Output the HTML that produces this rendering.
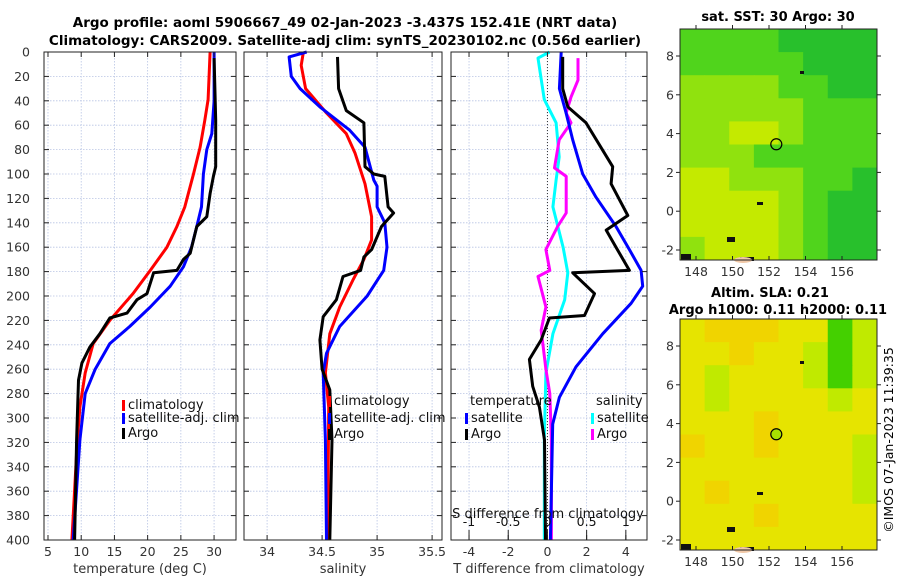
<!DOCTYPE html>
<html><head><meta charset="utf-8">
<style>
body{margin:0;background:#fff;}
svg{display:block;font-family:"DejaVu Sans","Liberation Sans",sans-serif;}
</style></head>
<body>
<svg id="fig" width="900" height="580" viewBox="0 0 900 580" xmlns="http://www.w3.org/2000/svg">
<text x="345" y="27" text-anchor="middle" font-weight="bold" font-size="13.5">Argo profile: aoml 5906667_49 02-Jan-2023 -3.437S 152.41E (NRT data)</text>
<text x="345" y="45" text-anchor="middle" font-weight="bold" font-size="13.5">Climatology: CARS2009. Satellite-adj clim: synTS_20230102.nc (0.56d earlier)</text>
<text x="778" y="21" text-anchor="middle" font-weight="bold" font-size="13">sat. SST: 30 Argo: 30</text>
<text x="770" y="297" text-anchor="middle" font-weight="bold" font-size="13">Altim. SLA: 0.21</text>
<text x="778" y="314" text-anchor="middle" font-weight="bold" font-size="13">Argo h1000: 0.11 h2000: 0.11</text>
<text transform="translate(893,440) rotate(-90)" text-anchor="middle" font-size="12.5">©IMOS 07-Jan-2023 11:39:35</text>
</svg>
<script>
// ---------- data ----------
const depthTicks=[0,20,40,60,80,100,120,140,160,180,200,220,240,260,280,300,320,340,360,380,400];
const tTicks=[5,10,15,20,25,30];
const sTicks=[34,34.5,35,35.5];
const dTTicks=[-4,-2,0,2,4];
const dSTickLabels=[-1,-0.5,0,0.5,1];
// temperature profiles: [depth, value]
const tClimDepth=[0,39,56,78,100,127,143,160,179,198,220,239,263,291,320,400];
const tClimVal=[29.4,29.1,28.6,27.9,26.9,25.6,24.4,22.9,20.4,17.8,14.3,11.8,10.6,9.8,9.4,8.6];
const tSatDepth=[0,40,67,80,100,127,143,160,176,192,209,225,239,260,280,318,400];
const tSatVal=[30.0,30.0,29.65,28.9,28.4,28.1,27.4,26.6,25.4,23.4,20.4,17.3,14.3,12.1,10.6,9.8,8.8];
const tArgoDepth=[5,56,94,102,116,135,143,154,165,170,179,181,198,203,214,218,231,242,255,269,318,400];
const tArgoVal=[30.0,30.25,30.25,29.9,29.4,28.9,27.4,26.9,26.4,25.4,24.4,20.9,19.9,18.4,16.9,14.3,12.8,11.3,10.1,9.6,9.3,9.0];
// salinity profiles
const sClimDepth=[0,11,30,50,67,83,108,135,154,170,187,209,231,263,291,400];
const sClimVal=[34.33,34.31,34.35,34.54,34.72,34.80,34.89,34.95,34.95,34.88,34.78,34.66,34.57,34.53,34.56,34.55];
const sSatDepth=[0,4,20,30,45,64,78,105,110,127,140,160,179,200,225,247,263,318,400];
const sSatVal=[34.36,34.20,34.22,34.30,34.48,34.75,34.89,34.97,35.00,35.00,35.07,35.09,35.06,34.91,34.66,34.54,34.51,34.53,34.54];
const sArgoDepth=[4,30,48,58,94,100,102,127,132,143,162,168,179,184,203,217,236,260,277,318,400];
const sArgoVal=[34.64,34.65,34.72,34.88,34.89,34.97,35.07,35.10,35.15,35.04,34.95,34.88,34.85,34.69,34.63,34.51,34.48,34.50,34.57,34.59,34.57];
// differences from climatology
const dTSatDepth=[0,30,50,72,100,119,143,162,179,192,206,231,258,283,305,400];
const dTSatVal=[0.70,0.61,0.95,1.29,1.80,2.48,3.50,4.18,4.78,4.86,4.27,2.82,1.46,0.61,0.27,0.15];
const dTArgoDepth=[4,30,45,58,94,108,134,146,160,179,181,198,216,218,236,252,274,291,318,400];
const dTArgoVal=[0.78,0.78,1.04,1.97,3.33,3.25,4.10,3.00,3.50,4.18,1.29,2.40,1.89,0.10,-0.32,-0.92,-0.75,-0.41,-0.15,-0.10];
const dSSatDepth=[0,5,39,58,86,105,127,160,181,203,231,263,318,400];
const dSSatVal=[0.026,-0.12,-0.04,0.11,0.15,0.11,0.07,0.20,0.26,0.22,0.07,-0.02,-0.04,-0.04];
const dSArgoDepth=[5,23,37,50,58,72,95,102,132,143,162,179,184,209,228,260,280,318,400];
const dSArgoVal=[0.39,0.39,0.30,0.24,0.30,0.15,0.09,0.24,0.24,0.13,-0.02,0.03,-0.12,-0.02,-0.08,-0.02,0.03,0.05,0.05];
// maps (rows north->south, cols west->east), category codes
const sstGrid=[
[1,1,1,1,0,0,0,0],[1,1,1,1,1,0,0,0],[2,2,2,2,1,1,0,0],[2,2,2,2,2,1,1,1],[2,2,3,3,2,1,1,1],
[2,2,2,1,1,1,1,1],[3,3,2,2,2,1,1,0],[3,3,3,3,2,1,0,0],[3,3,3,3,2,1,0,0],[2,3,3,3,2,1,0,0]];
const slaGrid=[
[2,3,3,3,2,2,0,1],[2,2,3,2,2,1,0,1],[2,1,2,2,2,1,0,1],[2,1,2,2,2,2,1,2],[2,2,2,3,2,2,2,2],
[3,2,2,3,2,2,2,1],[2,2,2,2,2,2,2,1],[2,3,2,2,2,2,2,1],[2,2,2,3,2,2,2,2],[2,2,2,2,2,2,2,2]];
const lonTicks=[148,150,152,154,156];
const latTicks=[8,6,4,2,0,-2];
const argoLon=152.4, argoLat=3.45;

// ---------- helpers ----------
const NS="http://www.w3.org/2000/svg";
const svg=document.getElementById('fig');
function mk(tag,attrs,parent){const e=document.createElementNS(NS,tag);for(const k in attrs)e.setAttribute(k,attrs[k]);(parent||svg).appendChild(e);return e;}
const Y0=52,Y1=540;
const yD=d=>Y0+(d/400)*(Y1-Y0);

function panel(name,x0,x1,xmin,xmax,ticks,fmt){
  const g=mk('g',{});
  
  
  const xs=v=>x0+(v-xmin)/(xmax-xmin)*(x1-x0);
  // grid
  ticks.forEach(t=>{const l=mk('line',{x1:xs(t),x2:xs(t),y1:Y0,y2:Y1,stroke:'#b8c4e4','stroke-width':0.8,'stroke-dasharray':'1.5,1.5'},g);
    });
  depthTicks.forEach(d=>{const l=mk('line',{x1:x0,x2:x1,y1:yD(d),y2:yD(d),stroke:'#b8c4e4','stroke-width':0.8,'stroke-dasharray':'1.5,1.5'},g);
    });
  return {g,xs};
}
function frame(g,name,x0,x1,xs,ticks,labelFn,title){
  const r=mk('rect',{x:x0,y:Y0,width:x1-x0,height:Y1-Y0,fill:'none',stroke:'#222','stroke-width':1},g);
  
  depthTicks.forEach(d=>{mk('line',{x1:x0,x2:x0+5,y1:yD(d),y2:yD(d),stroke:'#222'},g);mk('line',{x1:x1-5,x2:x1,y1:yD(d),y2:yD(d),stroke:'#222'},g);});
  ticks.forEach(t=>{mk('line',{x1:xs(t),x2:xs(t),y1:Y1,y2:Y1-5,stroke:'#222'},g);mk('line',{x1:xs(t),x2:xs(t),y1:Y0,y2:Y0+5,stroke:'#222'},g);
    const tx=mk('text',{x:xs(t),y:556,'text-anchor':'middle','font-size':12.5,fill:'#333'},g);tx.textContent=labelFn(t);
    });
  const tt=mk('text',{x:(x0+x1)/2,y:573,'text-anchor':'middle','font-size':13,fill:'#333'},g);tt.textContent=title;
  
}
function line(g,name,depths,vals,xs,color,w){
  const pts=depths.map((d,i)=>xs(vals[i]).toFixed(1)+','+yD(d).toFixed(1)).join(' ');
  const p=mk('polyline',{points:pts,fill:'none',stroke:color,'stroke-width':w||3,'stroke-linejoin':'round'},g);
  
}
function legend(g,x,y,color,label,name){
  mk('rect',{x:x,y:y-9,width:3,height:11,fill:color},g);
  const t=mk('text',{x:x+6,y:y,'font-size':13,fill:'#111'},g);t.textContent=label;
  
}

// y tick labels
depthTicks.forEach(d=>{const t=mk('text',{x:30,y:yD(d)+4.5,'text-anchor':'end','font-size':12.5,fill:'#333'});t.textContent=d;
  });

// panel 1 temperature
{const P=panel('temperature-panel',44,236,4.4,33.3,tTicks);const xs=P.xs,g=P.g;
 line(g,'temperature-climatology-line',tClimDepth,tClimVal,xs,'#ff0000');
 line(g,'temperature-satellite-line',tSatDepth,tSatVal,xs,'#0000ff');
 line(g,'temperature-argo-line',tArgoDepth,tArgoVal,xs,'#000000');
 frame(g,'temperature-panel',44,236,xs,tTicks,t=>t,'temperature (deg C)');
 legend(g,122,409,'#ff0000','climatology','legend-climatology');
 legend(g,122,422,'#0000ff','satellite-adj. clim','legend-satellite-adj');
 legend(g,122,437,'#000000','Argo','legend-argo');}
// panel 2 salinity
{const P=panel('salinity-panel',244,442,33.79,35.59,sTicks);const xs=P.xs,g=P.g;
 line(g,'salinity-climatology-line',sClimDepth,sClimVal,xs,'#ff0000');
 line(g,'salinity-satellite-line',sSatDepth,sSatVal,xs,'#0000ff');
 line(g,'salinity-argo-line',sArgoDepth,sArgoVal,xs,'#000000');
 frame(g,'salinity-panel',244,442,xs,sTicks,t=>t,'salinity');
 legend(g,328,405,'#ff0000','climatology','legend-climatology-2');
 legend(g,328,422,'#0000ff','satellite-adj. clim','legend-satellite-adj-2');
 legend(g,328,438,'#000000','Argo','legend-argo-2');}
// panel 3 differences
{const P=panel('difference-panel',451,647,-4.92,5.08,dTTicks);const xs=P.xs,g=P.g;
 const xsS=v=>xs(v*4);
 const z=mk('line',{x1:xs(0),x2:xs(0),y1:Y0,y2:Y1,stroke:'#333','stroke-width':1,'stroke-dasharray':'1,2'},g);
 
 line(g,'salinity-diff-satellite-line',dSSatDepth,dSSatVal,xsS,'#00ffff');
 line(g,'salinity-diff-argo-line',dSArgoDepth,dSArgoVal,xsS,'#ff00ff');
 line(g,'temperature-diff-satellite-line',dTSatDepth,dTSatVal,xs,'#0000ff');
 line(g,'temperature-diff-argo-line',dTArgoDepth,dTArgoVal,xs,'#000000');
 frame(g,'difference-panel',451,647,xs,dTTicks,t=>t,'T difference from climatology');
 dSTickLabels.forEach(s=>{mk('line',{x1:xsS(s),x2:xsS(s),y1:530,y2:540,stroke:'#222'},g);
   const t=mk('text',{x:xsS(s),y:526,'text-anchor':'middle','font-size':12.5,fill:'#111'},g);t.textContent=s;
   });
 const st=mk('text',{x:548,y:518,'text-anchor':'middle','font-size':13,fill:'#111'},g);st.textContent='S difference from climatology';
 
 const a=mk('text',{x:470,y:405,'font-size':13,fill:'#111'},g);a.textContent='temperature';
 
 const b=mk('text',{x:596,y:405,'font-size':13,fill:'#111'},g);b.textContent='salinity';
 
 legend(g,465,422,'#0000ff','satellite','legend-t-satellite');
 legend(g,465,438,'#000000','Argo','legend-t-argo');
 legend(g,591,422,'#00ffff','satellite','legend-s-satellite');
 legend(g,591,438,'#ff00ff','Argo','legend-s-argo');}

// maps
function map(name,top,grid,colors,circleFill){
  const x0=680,x1=877,h=231;
  const g=mk('g',{});
  
  const lonX=l=>696+(l-148)*18.25;
  const latY=l=>top+27+(8-l)*19.4;
  const rows=grid.length,cols=grid[0].length;
  const cw=(x1-x0)/cols,ch=h/rows;
  grid.forEach((row,r)=>row.forEach((v,c)=>{
    const cell=mk('rect',{x:x0+c*cw,y:top+r*ch,width:cw+0.5,height:ch+0.5,fill:colors[v]},g);
    }));
  // coast bits
  [[681,top+225,10,6],[727,top+208,8,5],[740,top+228,14,4],[757,top+173,6,3],[800,top+42,4,3]].forEach(b=>mk('rect',{x:b[0],y:b[1],width:b[2],height:b[3],fill:'#111'},g));
  mk('ellipse',{cx:743,cy:top+231,rx:9,ry:3,fill:'#f0c8a8'},g);
  const c=mk('circle',{cx:lonX(argoLon),cy:latY(argoLat),r:5.5,fill:circleFill,stroke:'#000','stroke-width':1.2},g);
  
  mk('rect',{x:x0,y:top,width:x1-x0,height:h,fill:'none',stroke:'#222'},g);
  lonTicks.forEach(l=>{mk('line',{x1:lonX(l),x2:lonX(l),y1:top+h,y2:top+h-4,stroke:'#222'},g);mk('line',{x1:lonX(l),x2:lonX(l),y1:top,y2:top-4,stroke:'#222'},g);
    const t=mk('text',{x:lonX(l),y:top+h+16,'text-anchor':'middle','font-size':12.5,fill:'#333'},g);t.textContent=l;
    });
  latTicks.forEach(l=>{mk('line',{x1:x0,x2:x0-4,y1:latY(l),y2:latY(l),stroke:'#222'},g);mk('line',{x1:x1,x2:x1+4,y1:latY(l),y2:latY(l),stroke:'#222'},g);
    const t=mk('text',{x:674,y:latY(l)+4.5,'text-anchor':'end','font-size':12.5,fill:'#333'},g);t.textContent=l;
    });
}
map('sst-map',29,sstGrid,['#28c02c','#50d41c','#90e20e','#c4ea00'],'none');
map('sla-map',319,slaGrid,['#44d000','#c0ea00','#e6e400','#f0d400'],'#a8e000');
</script>
</body></html>
